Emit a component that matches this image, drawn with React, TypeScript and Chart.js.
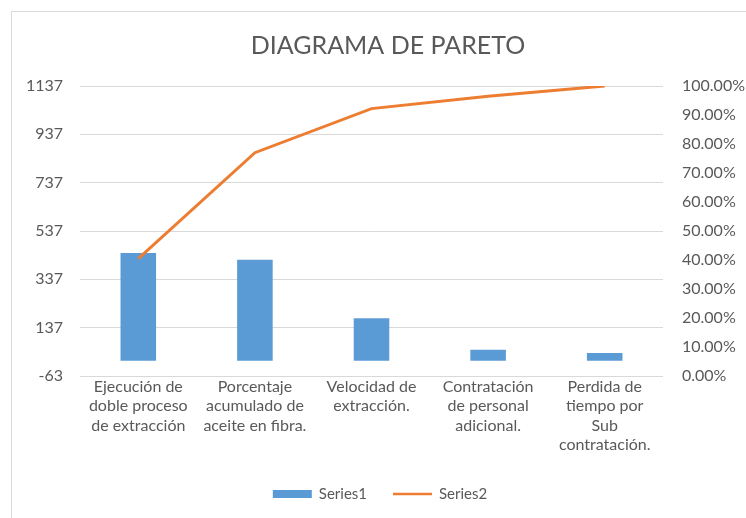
import React, { useEffect, useRef } from "react";
import { Chart, registerables } from "chart.js";

Chart.register(...registerables);

const TITLE = "DIAGRAMA DE PARETO";
const CATEGORIES: string[][] = [
  ["Ejecución de", "doble proceso", "de extracción"],
  ["Porcentaje", "acumulado de", "aceite en fibra."],
  ["Velocidad de", "extracción."],
  ["Contratación", "de personal", "adicional."],
  ["Perdida de", "tiempo por", "Sub", "contratación."],
];
const SERIES1_LABEL = "Series1";
const SERIES2_LABEL = "Series2";
const SERIES1 = [446, 418, 176, 46, 32];
const SERIES2 = [0.405, 0.77, 0.922, 0.965, 1.0];
const LEFT_TICKS = [-63, 137, 337, 537, 737, 937, 1137];
const RIGHT_TICKS = [0, 0.1, 0.2, 0.3, 0.4, 0.5, 0.6, 0.7, 0.8, 0.9, 1.0];

const FONT = "Lato";
const TEXT = "#595959";
const BLUE = "#5B9BD5";
const ORANGE = "#ED7D31";

const decorPlugin = {
  id: "decor",
  afterDraw(chart: any) {
    const ctx = chart.ctx;
    ctx.save();
    // title
    ctx.font = `25px ${FONT}`;
    ctx.textAlign = "center";
    ctx.textBaseline = "middle";
    ctx.fillStyle = TEXT;
    ctx.fillText(TITLE, 388, 46);

    // legend
    const y = 494;
    ctx.font = `15px ${FONT}`;
    ctx.textAlign = "left";
    const boxW = 39;
    const gap = 7;
    const itemGap = 26;
    const ds = chart.data.datasets;
    const bar = ds.find((d: any) => d.type === "bar");
    const line = ds.find((d: any) => d.type === "line");
    const w1 = ctx.measureText(bar.label).width;
    const w2 = ctx.measureText(line.label).width;
    const total = boxW + gap + w1 + itemGap + boxW + gap + w2;
    let x = 380 - total / 2;
    ctx.fillStyle = bar.backgroundColor;
    ctx.fillRect(x, y - 4, boxW, 8);
    x += boxW + gap;
    ctx.fillStyle = TEXT;
    ctx.fillText(bar.label, x, y);
    x += w1 + itemGap;
    ctx.strokeStyle = line.borderColor;
    ctx.lineWidth = 2.5;
    ctx.beginPath();
    ctx.moveTo(x, y);
    ctx.lineTo(x + boxW, y);
    ctx.stroke();
    x += boxW + gap;
    ctx.fillStyle = TEXT;
    ctx.fillText(line.label, x, y);
    ctx.restore();
  },
};

export default function App() {
  const ref = useRef<HTMLCanvasElement | null>(null);

  useEffect(() => {
    if (!ref.current) return;
    const chart = new Chart(ref.current, {
      data: {
        labels: CATEGORIES,
        datasets: [
          {
            type: "bar",
            label: SERIES1_LABEL,
            data: SERIES1,
            yAxisID: "y",
            backgroundColor: BLUE,
            categoryPercentage: 1,
            barPercentage: 0.305,
            order: 1,
          },
          {
            type: "line",
            label: SERIES2_LABEL,
            data: SERIES2,
            yAxisID: "y1",
            borderColor: ORANGE,
            backgroundColor: ORANGE,
            borderWidth: 3,
            pointRadius: 0,
            tension: 0,
            order: 0,
          },
        ],
      } as any,
      options: {
        responsive: false,
        animation: false,
        layout: { padding: { left: 12, right: 0, top: 86, bottom: 0 } },
        plugins: {
          legend: { display: false },
          tooltip: { enabled: false },
          title: { display: false },
        },
        scales: {
          x: {
            grid: { display: false, drawTicks: false },
            border: { display: false },
            ticks: {
              color: TEXT,
              font: { family: FONT, size: 16, lineHeight: 1.22 },
              padding: 1,
              maxRotation: 0,
              minRotation: 0,
              autoSkip: false,
            },
            afterFit(scale: any) {
              scale.height = 142;
            },
          },
          y: {
            position: "left",
            min: -63,
            max: 1137,
            grid: { color: "#d9d9d9", drawTicks: false, lineWidth: 1 },
            border: { display: false },
            ticks: {
              color: TEXT,
              font: { family: FONT, size: 16 },
              padding: 17,
              callback: (v: any) => String(v),
            },
            afterBuildTicks(scale: any) {
              scale.ticks = LEFT_TICKS.map((v) => ({ value: v }));
            },
            afterFit(scale: any) {
              scale.width = 68;
            },
          },
          y1: {
            position: "right",
            min: 0,
            max: 1,
            grid: { display: false, drawTicks: false },
            border: { display: false },
            ticks: {
              color: TEXT,
              font: { family: FONT, size: 16 },
              padding: 19,
              callback: (v: any) => (Number(v) * 100).toFixed(2) + "%",
            },
            afterBuildTicks(scale: any) {
              scale.ticks = RIGHT_TICKS.map((v) => ({ value: v }));
            },
            afterFit(scale: any) {
              scale.width = 83;
            },
          },
        },
      } as any,
      plugins: [decorPlugin],
    });
    return () => chart.destroy();
  }, []);

  return (
    <div
      style={{
        position: "fixed",
        left: 0,
        top: 0,
        width: 746,
        height: 518,
        overflow: "hidden",
        background: "#fff",
      }}
    >
      <div
        style={{
          position: "absolute",
          left: 11,
          top: 11,
          width: 760,
          height: 530,
          border: "1px solid #d9d9d9",
        }}
      />
      <canvas
        ref={ref}
        width={746}
        height={518}
        style={{ position: "absolute", left: 0, top: 0, width: 746, height: 518 }}
      />
    </div>
  );
}
